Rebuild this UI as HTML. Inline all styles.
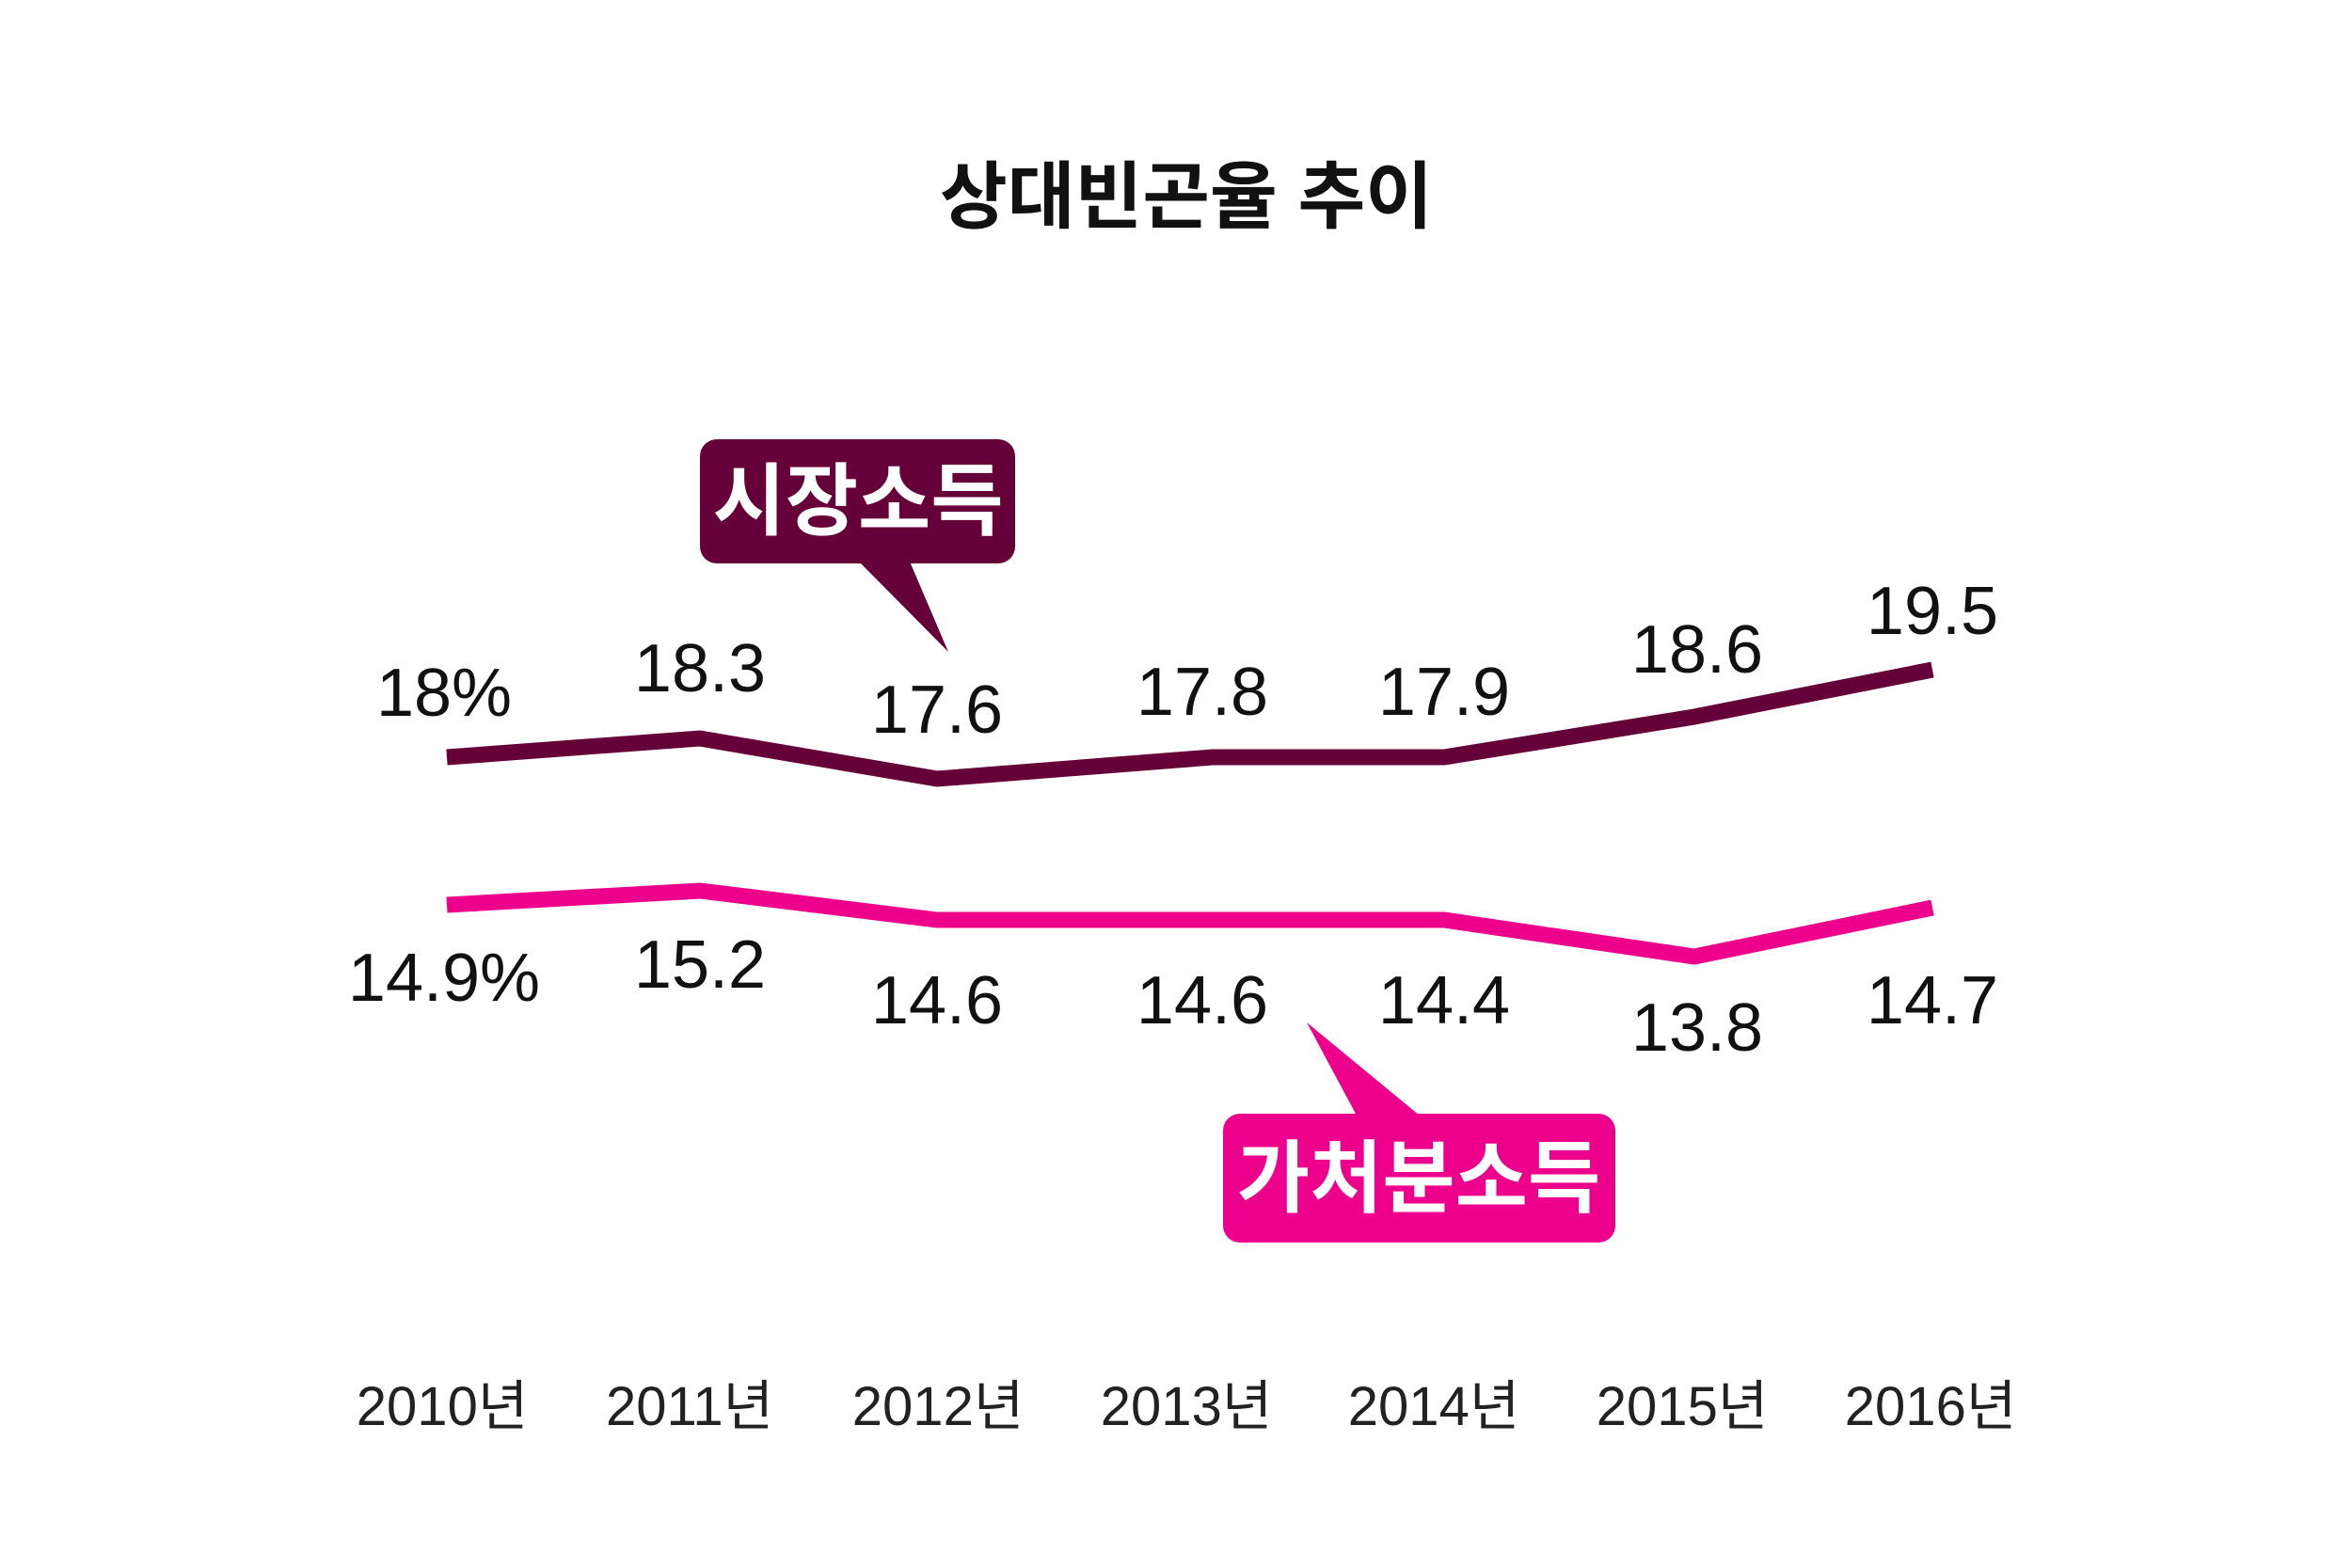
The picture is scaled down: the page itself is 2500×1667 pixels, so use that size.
<!DOCTYPE html>
<html><head><meta charset="utf-8"><style>
html,body{margin:0;padding:0;background:#fff;}
svg{display:block;}
text{font-family:"Liberation Sans","Noto Sans CJK KR",sans-serif;}
</style></head><body>
<svg width="2500" height="1667" viewBox="0 0 2500 1667" xmlns="http://www.w3.org/2000/svg">
<rect width="2500" height="1667" fill="#fff"/>
<text x="1261" y="236" font-size="78" font-weight="bold" text-anchor="middle" fill="#111">상대빈곤율 추이</text>

<polyline points="475,805 744,785 996,828 1289,805 1535,805 1801,762 2054,712" fill="none" stroke="#660038" stroke-width="17"/>
<polyline points="475,962 744,947 996,978 1289,978 1535,978 1801,1017 2054,965" fill="none" stroke="#EC008C" stroke-width="17"/>

<g font-size="72" fill="#111" text-anchor="middle">
<text x="472" y="761">18%</text>
<text x="744" y="735">18.3</text>
<text x="996" y="779">17.6</text>
<text x="1278" y="760">17.8</text>
<text x="1535" y="760">17.9</text>
<text x="1804" y="715">18.6</text>
<text x="2054" y="674">19.5</text>
<text x="472" y="1064">14.9%</text>
<text x="744" y="1050">15.2</text>
<text x="996" y="1088">14.6</text>
<text x="1278" y="1088">14.6</text>
<text x="1535" y="1088">14.4</text>
<text x="1804" y="1117">13.8</text>
<text x="2054" y="1088">14.7</text>
</g>

<g font-size="58" fill="#222" text-anchor="middle">
<text x="470" y="1515">2010년</text>
<text x="733" y="1515">2011년</text>
<text x="997" y="1515">2012년</text>
<text x="1261" y="1515">2013년</text>
<text x="1524" y="1515">2014년</text>
<text x="1788" y="1515">2015년</text>
<text x="2052" y="1515">2016년</text>
</g>

<rect x="744" y="467" width="335" height="132" rx="18" fill="#660038"/>
<polygon points="913,597 967,597 1008,693" fill="#660038"/>
<text x="912" y="562" font-size="84" font-weight="bold" fill="#fff" text-anchor="middle">시장소득</text>

<rect x="1300" y="1184" width="417" height="137" rx="18" fill="#EC008C"/>
<polygon points="1389,1087 1442,1186 1509,1186" fill="#EC008C"/>
<text x="1508" y="1282" font-size="84" font-weight="bold" fill="#fff" text-anchor="middle">가처분소득</text>
</svg>
</body></html>
